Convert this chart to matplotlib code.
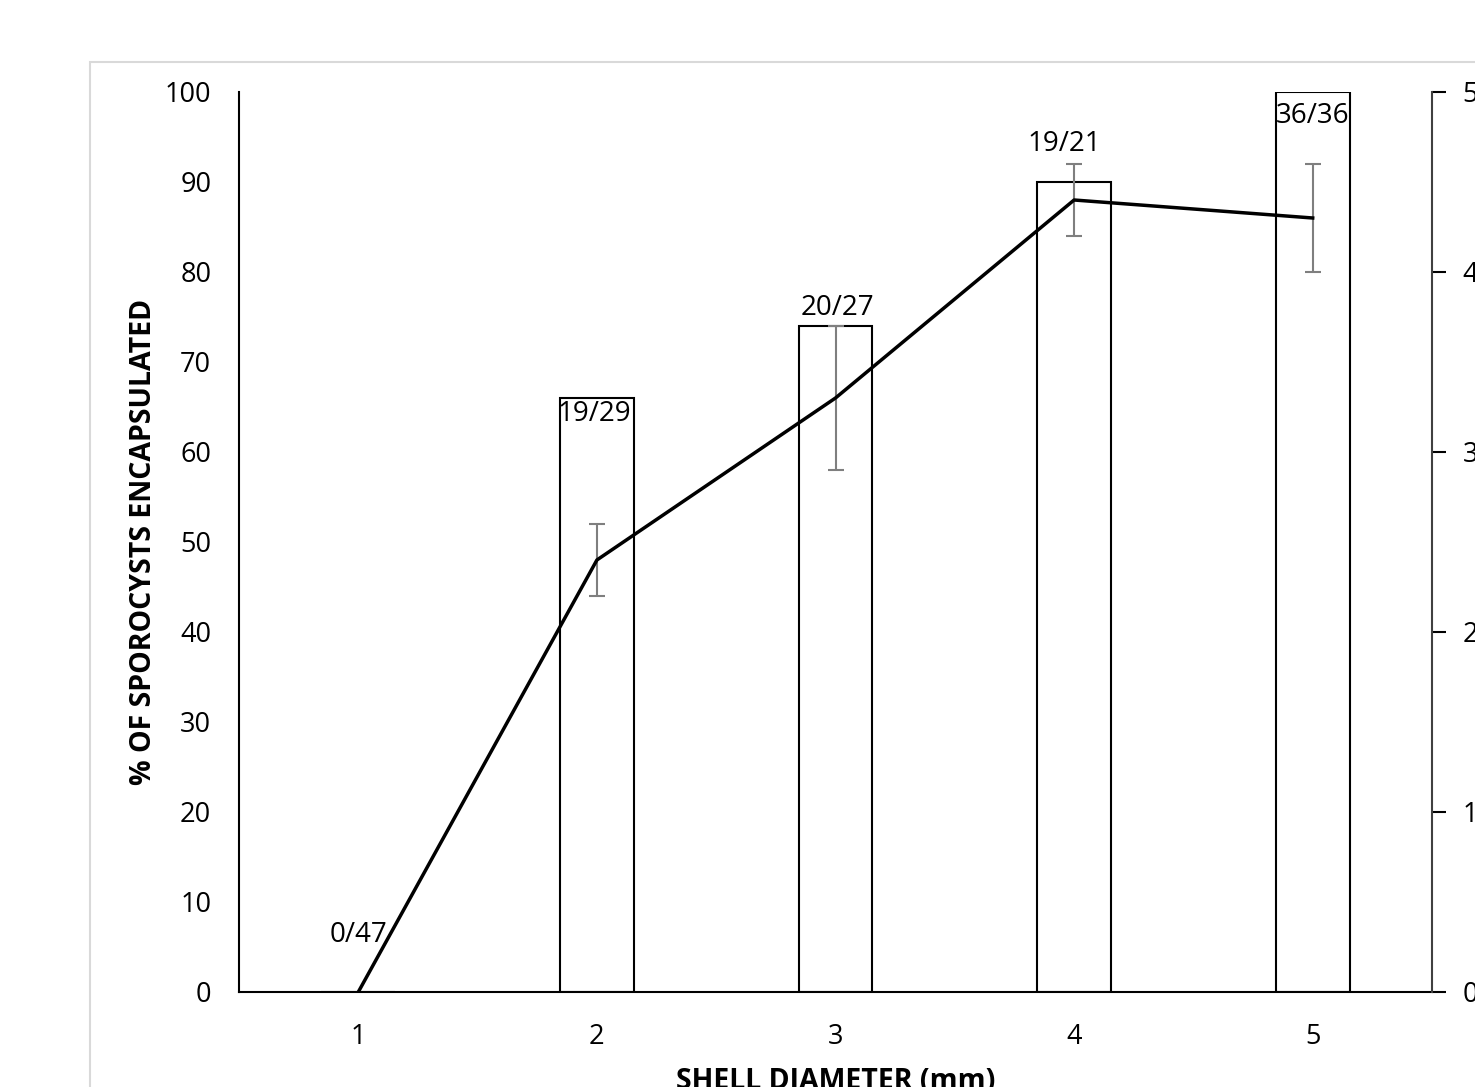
import numpy as np
import matplotlib.pyplot as plt
from matplotlib.patches import Rectangle

plt.rcParams['font.family'] = ['Open Sans', 'DejaVu Sans']

# data
diameter = [1, 2, 3, 4, 5]
pct_encapsulated = [0, 66, 74, 90, 100]
ratio_labels = ['0/47', '19/29', '20/27', '19/21', '36/36']
label_x = [1.0, 1.99, 3.01, 3.96, 5.0]
label_y = [6.3, 64.2, 76, 94.2, 97.3]
line_vals = [0, 2.4, 3.3, 4.4, 4.3]
line_err = [0, 0.2, 0.4, 0.2, 0.3]

W, H = 1475, 1087
fig = plt.figure(figsize=(W / 100, H / 100), dpi=100)

# light grey chart-area border (cut off at right/bottom)
fig.patches.append(Rectangle((90 / W, -0.1), 1.2, 1 - 62 / H + 0.1,
                             transform=fig.transFigure, fill=False,
                             edgecolor='#d9d9d9', linewidth=1.5))

ax = fig.add_axes([239 / W, 1 - 992 / H, (1432 - 239) / W, (992 - 92) / H])
ax.bar(diameter, pct_encapsulated, width=0.31, color='white',
       edgecolor='black', linewidth=1.5, zorder=2)
ax.set_xlim(0.5, 5.5)
ax.set_ylim(0, 100)
ax.set_yticks(np.arange(0, 101, 10))
ax.set_xticks(diameter)
ax.tick_params(axis='both', length=0, labelsize=19.5)
ax.tick_params(axis='x', pad=22)
ax.tick_params(axis='y', pad=20)
for s in ['top', 'right']:
    ax.spines[s].set_visible(False)
for s in ['left', 'bottom']:
    ax.spines[s].set_linewidth(1.5)

for x, y, t in zip(label_x, label_y, ratio_labels):
    ax.text(x, y, t, ha='center', va='center', fontsize=20, zorder=5)

ax.set_ylabel('% OF SPOROCYSTS ENCAPSULATED', fontsize=20.5, fontweight='bold',
              labelpad=5)
ax.set_xlabel('SHELL DIAMETER (mm)', fontsize=20.5, fontweight='bold',
              labelpad=12)

ax2 = ax.twinx()
ax2.set_ylim(0, 5)
ax2.set_yticks(range(6))
ax2.errorbar(diameter[1:], line_vals[1:], yerr=line_err[1:], fmt='none',
             ecolor='#7f7f7f', elinewidth=1.5, capsize=6, capthick=1.5, zorder=3)
ax2.plot(diameter, line_vals, color='black', linewidth=2.5, zorder=4)
ax2.tick_params(axis='y', direction='out', length=10, width=1.5,
                labelsize=19.5, pad=12)
for s in ['top', 'left', 'bottom']:
    ax2.spines[s].set_visible(False)
ax2.spines['right'].set_linewidth(1.5)
ax2.spines['right'].set_color('#404040')

fig.savefig('out.png', dpi=100)
